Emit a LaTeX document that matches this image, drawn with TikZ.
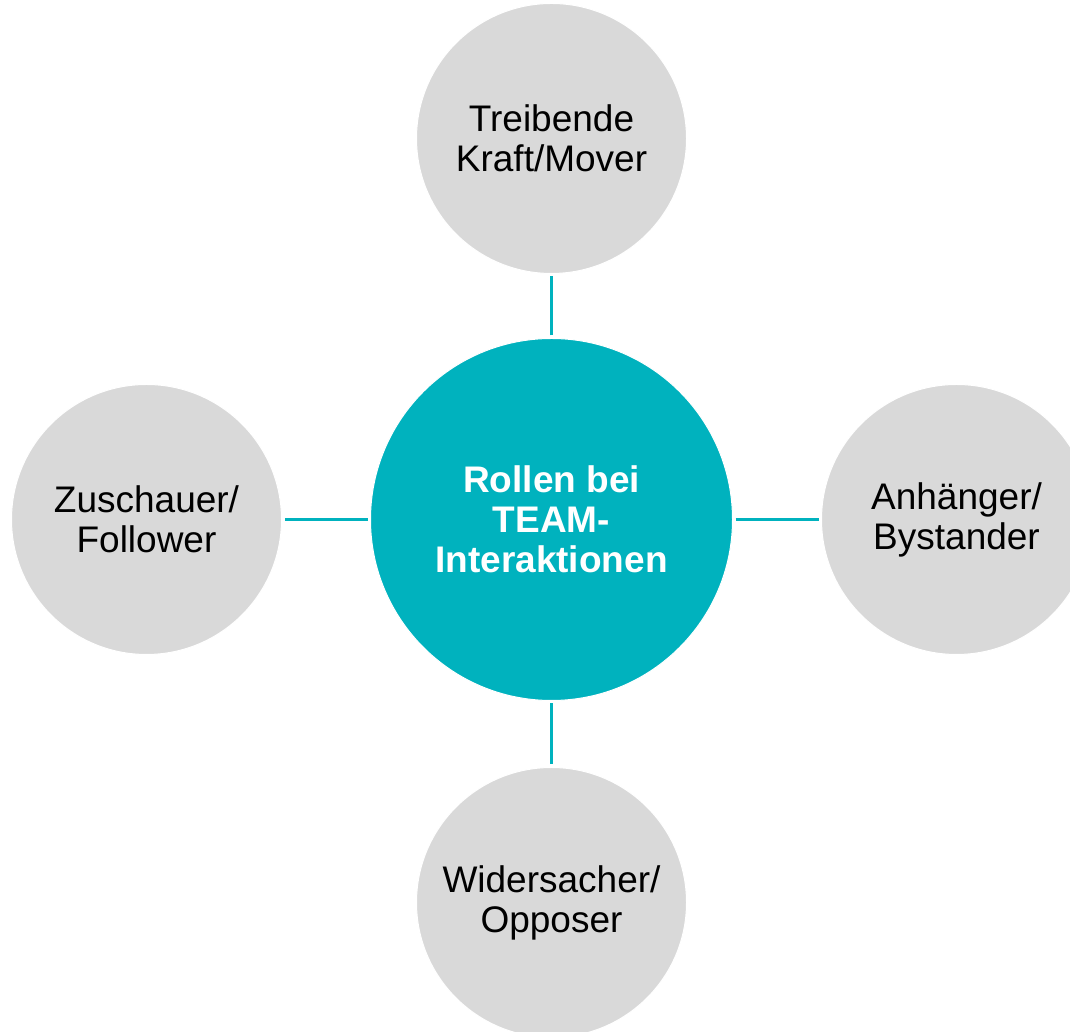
\documentclass[tikz,border=0pt]{standalone}
\usepackage{fontspec}
\setmainfont{Liberation Sans}
\definecolor{TealMain}{RGB}{0, 178, 190}
\definecolor{LightGrey}{RGB}{217, 217, 217}
\usetikzlibrary{positioning}

\begin{document}
\begin{tikzpicture}[x=1pt, y=1pt, every node/.style={font=\fontsize{37}{40}\selectfont, align=center},
  role/.style={circle, fill=LightGrey, draw=white, line width=1pt, minimum size=270pt, inner sep=0pt},
  link/.style={TealMain, line width=2.6pt, shorten <=2.5pt, shorten >=2.5pt}]
\useasboundingbox (0,0) rectangle (1070,1032);
\clip (0,0) rectangle (1070,1032);
\node[circle, fill=TealMain, draw=white, line width=1pt, minimum size=362pt, inner sep=0pt, text=white, font=\fontsize{37}{40}\selectfont\bfseries] (core) at (551.5,512.5) {Rollen bei\\TEAM-\\Interaktionen};
\node[role, above=64pt of core] (mover) {Treibende\\Kraft/Mover};
\node[role, right=88pt of core] (bystander) {Anhänger/\\Bystander};
\node[role, below=66pt of core] (opposer) {Widersacher/\\Opposer};
\node[role, left=88pt of core] (follower) {Zuschauer/\\Follower};

\draw[link] (core) -- (mover);
\draw[link] (core) -- (bystander);
\draw[link] (core) -- (opposer);
\draw[link] (core) -- (follower);
\end{tikzpicture}
\end{document}
